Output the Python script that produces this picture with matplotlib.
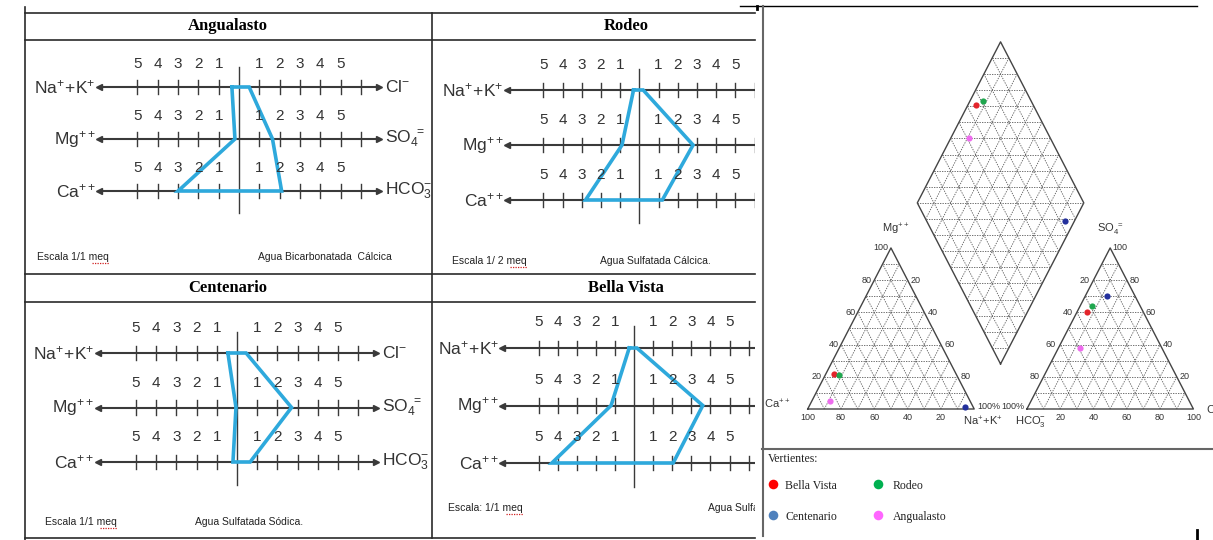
import numpy as np
import matplotlib
matplotlib.use("Agg")
import matplotlib.pyplot as plt

W, H = 1213, 540

# --- Stiff diagrams, meq read on each diagram's own scale ---
sites = ["Angualasto", "Rodeo", "Centenario", "Bella Vista"]
na_k = [0.35, 0.3, 0.45, 0.25]
mg = [0.2, 0.9, 0.05, 1.2]
ca = [3.0, 2.8, 0.2, 4.3]
cl = [0.5, 0.2, 0.45, 0.15]
so4 = [1.65, 2.8, 2.7, 3.6]
hco3 = [2.1, 1.2, 0.65, 2.05]
scales = ["Escala 1/1 meq", "Escala 1/ 2 meq", "Escala 1/1 meq", "Escala: 1/1 meq"]
water_types = ["Agua Bicarbonatada  Cálcica", "Agua Sulfatada Cálcica.",
               "Agua Sulfatada Sódica.", "Agua Sulfatada Cálcica."]
tick_values = [1, 2, 3, 4, 5]

# --- Piper diagram, % of meq ---
piper_sites = ["Bella Vista", "Rodeo", "Centenario", "Angualasto"]
piper_ca = [73, 71, 5, 84]
piper_mg = [22, 21, 1, 5]
piper_nak = [5, 8, 94, 11]
piper_hco3 = [34, 29, 17, 49]
piper_so4 = [60, 64, 70, 38]
piper_cl = [6, 7, 13, 13]
piper_colors = ["#e3242b", "#1fa64e", "#23309c", "#ee6cee"]
legend_colors = ["#ff0000", "#00b050", "#4f81bd", "#ff66ff"]

SERIF = ["Liberation Serif", "DejaVu Serif"]
SANS = ["Liberation Sans", "DejaVu Sans"]

fig = plt.figure(figsize=(W / 100, H / 100), dpi=100)


def px_axes(x0, y0, x1, y1):
    ax = fig.add_axes([x0 / W, 1 - y1 / H, (x1 - x0) / W, (y1 - y0) / H])
    ax.set_axis_off()
    return ax


# frame / table lines in pixel space
frame = px_axes(0, 0, W, H)
frame.set_xlim(0, W)
frame.set_ylim(H, 0)
line_kw = dict(color="#2a2a2a", lw=1.2)
for yy in [12.7, 40, 274, 301.5, 537.5]:
    frame.plot([25, 755], [yy, yy], **line_kw)
frame.plot([25, 25], [7, 540], **line_kw)
frame.plot([432, 432], [12.7, 537.5], **line_kw)
frame.plot([740, 1197], [6, 6], color="black", lw=1.0)
frame.plot([757, 757], [6, 9], color="black", lw=2)
frame.plot([762.5, 762.5], [6, 536], color="#666666", lw=1.5)
frame.plot([762, W], [449, 449], color="#666666", lw=1.5)
frame.plot([1197, 1197], [530, 540], color="black", lw=2)

# panel titles
title_pos = [(228, 26), (626, 26), (228, 288.5), (626, 288.5)]
for name, (tx, ty) in zip(sites, title_pos):
    frame.text(tx, ty, name, family=SERIF, weight="bold", fontsize=12,
               ha="center", va="center")

# --- Stiff diagrams ---
# box (px), centre x (px), px per unit, first/last row y (px)
layouts = [
    dict(box=(25, 40, 432, 273), cx=239, s=20.3, r0=87, r2=191),
    dict(box=(432, 40, 755, 273), cx=639.3, s=19.2, r0=90, r2=200),
    dict(box=(25, 302, 432, 537), cx=237, s=20.2, r0=353, r2=462),
    dict(box=(432, 302, 755, 537), cx=634, s=19.1, r0=348, r2=463),
]
left_ions = [r"$\mathregular{Na^{+}\!+\!K^{+}}$", r"$\mathregular{Mg^{++}}$",
             r"$\mathregular{Ca^{++}}$"]
right_ions = [r"$\mathregular{Cl^{-}}$", r"$\mathregular{SO_4^{\ =}}$",
              r"$\mathregular{HCO_3^{-}}$"]
scale_pos = [(37, 257), (452, 261), (45, 522), (448, 508)]
type_pos = [(258, 257), (600, 261), (195, 522), (708, 508)]
ext = 6.9
ink = "#3a3a3a"
renderer = fig.canvas.get_renderer()

for i, lay in enumerate(layouts):
    x0, y0, x1, y1 = lay["box"]
    ax = px_axes(x0, y0, x1, y1)
    rs = (lay["r2"] - lay["r0"]) / 2
    xmax = (x1 - lay["cx"]) / lay["s"]
    ax.set_xlim((x0 - lay["cx"]) / lay["s"], xmax)
    ax.set_ylim((y1 - lay["r0"]) / rs, (y0 - lay["r0"]) / rs)

    ax.plot([0, 0], [-0.38, 2.42], color=ink, lw=1.0)
    for r in range(3):
        ax.plot([-ext, ext], [r, r], color=ink, lw=1.5)
        ax.plot([-ext], [r], marker="<", ms=4, color=ink)
        ax.plot([ext], [r], marker=">", ms=4, color=ink)
        for v in tick_values:
            for sgn in (-1, 1):
                ax.plot([sgn * v, sgn * v], [r - 0.13, r + 0.13], color=ink, lw=1.0)
                ax.text(sgn * v, r - 0.45, str(v), family=SANS, fontsize=11,
                        color="#333333", ha="center", va="center")
        ax.plot([6, 6], [r - 0.13, r + 0.13], color=ink, lw=1.0)
        ax.text(-ext - 0.15, r, left_ions[r], family=SANS, fontsize=12.5,
                color="#333333", ha="right", va="center", clip_on=True)
        if ext + 0.3 < xmax:  # right-hand labels fall outside the cropped panels
            ax.text(ext + 0.3, r, right_ions[r], family=SANS, fontsize=12.5,
                    color="#333333", ha="left", va="center", clip_on=True)

    xs = [-na_k[i], cl[i], so4[i], hco3[i], -ca[i], -mg[i], -na_k[i]]
    ys = [0, 0, 1, 2, 2, 1, 0]
    ax.plot(xs, ys, color="#2ea9dc", lw=2.6, solid_joinstyle="miter")

    sx, sy = scale_pos[i]
    st = ax.text(sx, sy, scales[i], transform=frame.transData, family=SANS,
                 fontsize=7.5, ha="left", va="center", color="#222222", clip_on=True)
    # spell-check squiggle under "meq"
    bb = st.get_window_extent(renderer).transformed(frame.transData.inverted())
    frame.plot([bb.x1 - 17, bb.x1], [sy + 6, sy + 6], color="#d02020", lw=0.9,
               ls=(0, (1, 1)))
    tx, ty = type_pos[i]
    ax.text(tx, ty, water_types[i], transform=frame.transData, family=SANS,
            fontsize=7.5, ha="left", va="center", color="#222222", clip_on=True)

# --- Piper diagram ---
pa = px_axes(762, 7, W, 449)
ux, uy = 166.5, 186.0
pa.set_xlim((762 - 807.7) / ux, (W - 807.7) / ux)
pa.set_ylim((409 - 449) / uy, (409 - 7) / uy)
h = np.sqrt(3) / 2
g = 0.3165
d0 = 0.242
ox2 = 1 + g
bx = 1 + g / 2
grid_kw = dict(color="#5a5a5a", lw=0.6, ls=(0, (1.6, 1.4)))
edge_kw = dict(color="#444444", lw=1.0)
levels = np.arange(1, 10) / 10

for ox in (0, ox2):
    pa.plot([ox, ox + 1, ox + 0.5, ox], [0, 0, h, 0], **edge_kw)
    for t in levels:
        pa.plot([ox + t / 2, ox + 1 - t / 2], [h * t, h * t], **grid_kw)
        pa.plot([ox + t, ox + t + (1 - t) / 2], [0, h * (1 - t)], **grid_kw)
        pa.plot([ox + 1 - t, ox + (1 - t) / 2], [0, h * (1 - t)], **grid_kw)


def dia(a, b):
    return bx + (b - a) / 2, d0 + h * (a + b)


corners = [dia(0, 0), dia(1, 0), dia(1, 1), dia(0, 1), dia(0, 0)]
pa.plot([c[0] for c in corners], [c[1] for c in corners], **edge_kw)
for t in levels:
    p, q = dia(t, 0), dia(t, 1)
    pa.plot([p[0], q[0]], [p[1], q[1]], **grid_kw)
    p, q = dia(0, t), dia(1, t)
    pa.plot([p[0], q[0]], [p[1], q[1]], **grid_kw)
for s in np.arange(1, 20) / 10:
    hw = min(s, 2 - s) / 2
    pa.plot([bx - hw, bx + hw], [d0 + h * s] * 2, **grid_kw)

lab_kw = dict(family=SANS, fontsize=6.5, color="#333333")
for v in [100, 80, 60, 40, 20]:
    pa.text(1 - v / 100, -0.045, str(v), ha="center", va="center", **lab_kw)
    m = v / 100
    pa.text(m / 2 - 0.015, h * m, str(v), ha="right", va="center", **lab_kw)
    pa.text(ox2 + v / 100, -0.045, str(v), ha="center", va="center", **lab_kw)
    pa.text(ox2 + 1 - m / 2 + 0.015, h * m, str(v), ha="left", va="center", **lab_kw)
for v in [20, 40, 60, 80]:
    m = 1 - v / 100
    pa.text(1 - m / 2 + 0.02, h * m, str(v), ha="left", va="center", **lab_kw)
    pa.text(ox2 + m / 2 - 0.025, h * m, str(v), ha="right", va="center", **lab_kw)
pa.text(1.02, 0.012, "100%", ha="left", va="center", **lab_kw)
pa.text(ox2 - 0.012, 0.012, "100%", ha="right", va="center", **lab_kw)

ion_kw = dict(family=SANS, fontsize=8, color="#333333", ha="center", va="center")
pa.text(0.53, 0.965, r"$\mathregular{Mg^{++}}$", **ion_kw)
pa.text(-0.185, 0.025, r"$\mathregular{Ca^{++}}$", **ion_kw)
pa.text(1.055, -0.065, r"$\mathregular{Na^{+}\!+\!K^{+}}$", **ion_kw)
pa.text(ox2 + 0.02, -0.065, r"$\mathregular{HCO_3^{-}}$", **ion_kw)
pa.text(ox2 + 0.5, 0.965, r"$\mathregular{SO_4^{\ =}}$", **ion_kw)
pa.text(2.392, 0.0, r"$\mathregular{Cl^{-}}$", family=SANS, fontsize=8,
        color="#333333", ha="left", va="center")

for k in range(len(piper_sites)):
    c, m_, n = piper_ca[k] / 100, piper_mg[k] / 100, piper_nak[k] / 100
    hc, s4, chl = piper_hco3[k] / 100, piper_so4[k] / 100, piper_cl[k] / 100
    col = piper_colors[k]
    pa.scatter([n + m_ / 2], [h * m_], s=20, color=col, zorder=5, lw=0)
    pa.scatter([ox2 + chl + s4 / 2], [h * s4], s=20, color=col, zorder=5, lw=0)
    px, py = dia(c + m_, s4 + chl)
    pa.scatter([px], [py], s=20, color=col, zorder=5, lw=0)

# legend
frame.text(768, 459, "Vertientes:", family=SERIF, fontsize=8.5, ha="left",
           va="center", color="#222222")
leg_pos = {"Bella Vista": (773, 484), "Rodeo": (878, 484),
           "Centenario": (773, 515), "Angualasto": (878, 515)}
for name, col in zip(piper_sites, legend_colors):
    lx, ly = leg_pos[name]
    frame.scatter([lx], [ly], s=48, color=col, lw=0)
    frame.text(lx + (12 if lx < 800 else 15), ly + 2, name, family=SERIF,
               fontsize=8.5, ha="left", va="center", color="#222222")

fig.savefig("out.png", dpi=100)
